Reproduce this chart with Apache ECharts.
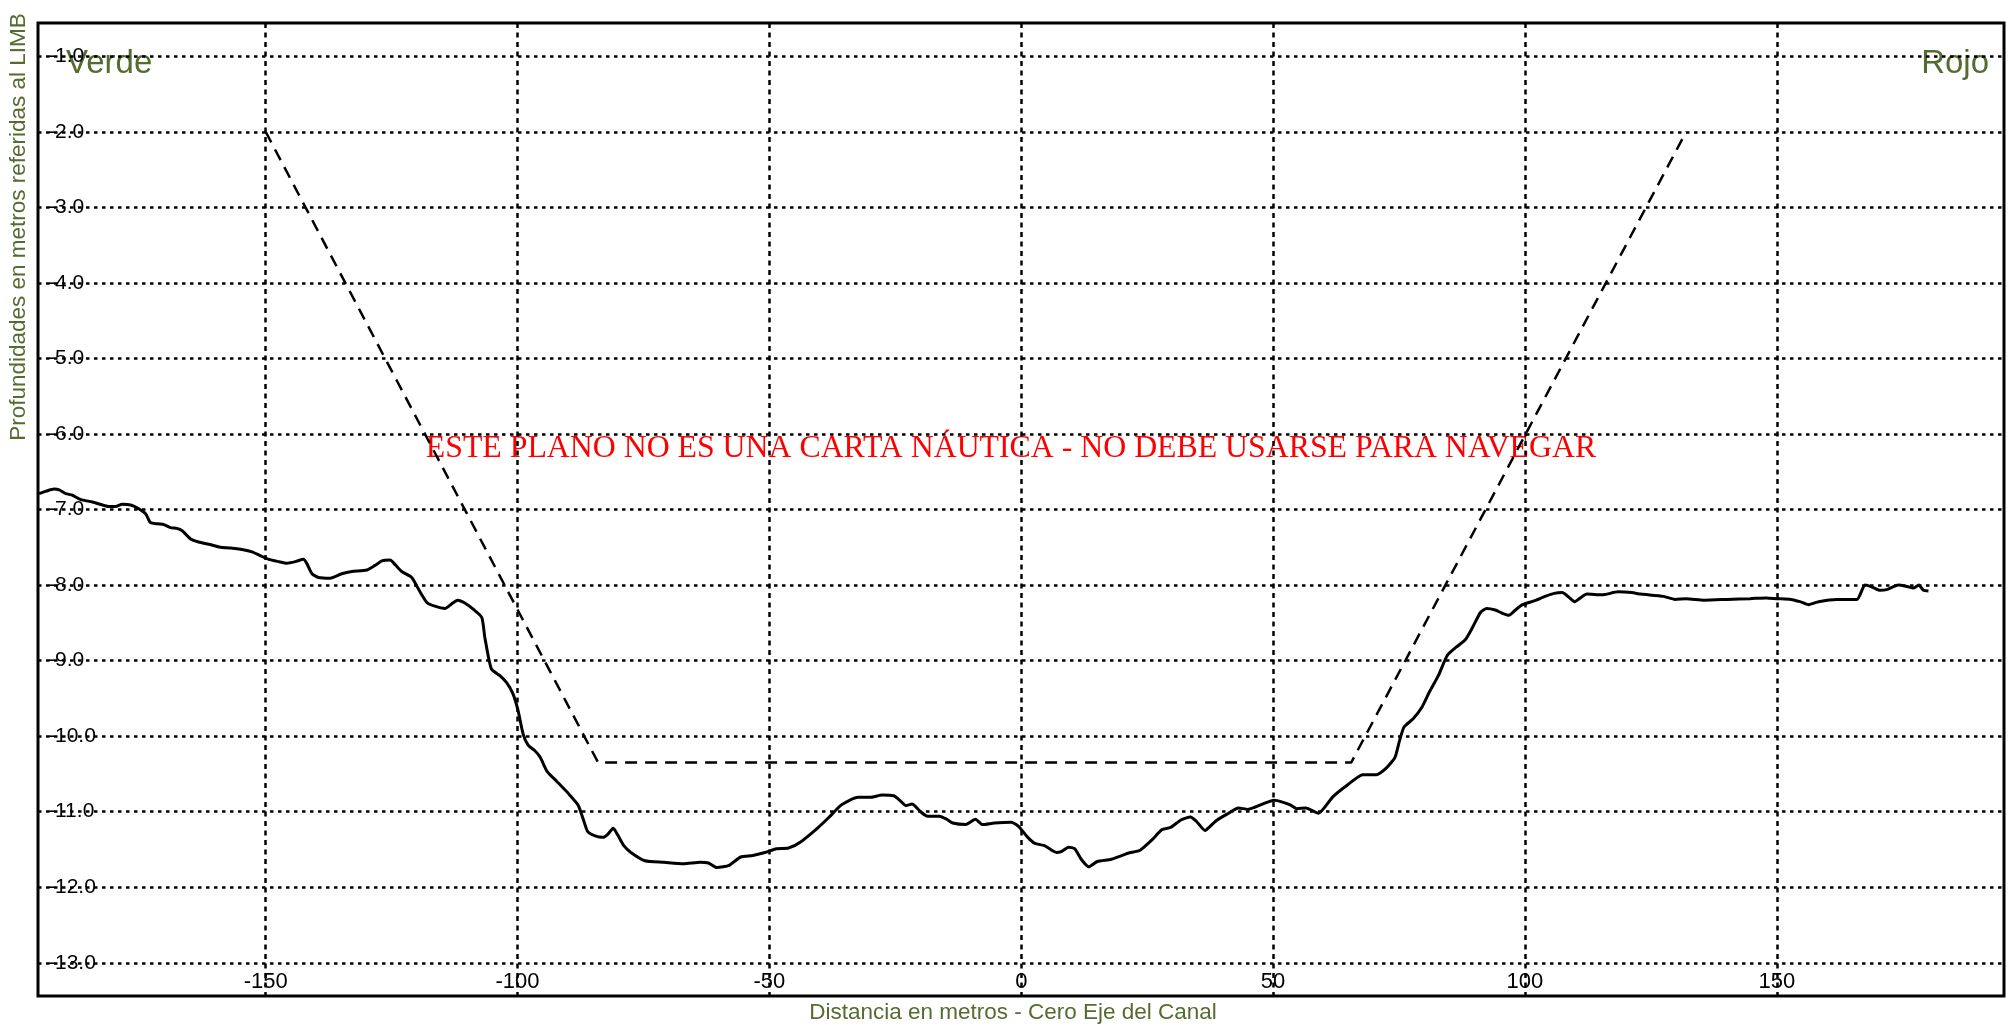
<!DOCTYPE html>
<html><head><meta charset="utf-8">
<script src="https://cdn.jsdelivr.net/npm/echarts@6/dist/echarts.min.js"></script>
<style>html,body{margin:0;padding:0;background:#fff}#c{width:2010px;height:1032px}</style>
</head><body><div id="c"></div>
<script>
const xTicks = [-150, -100, -50, 0, 50, 100, 150];
const yTicks = [-1, -2, -3, -4, -5, -6, -7, -8, -9, -10, -11, -12, -13];
const xTitle = 'Distancia en metros - Cero Eje del Canal';
const yTitle = 'Profundidades en metros referidas al LIMB';
const warning = 'ESTE PLANO NO ES UNA CARTA NÁUTICA - NO DEBE USARSE PARA NAVEGAR';
const leftSide = 'Verde';
const rightSide = 'Rojo';

const profileX = [-195,-193.7,-192,-191,-189.7,-188.4,-186.7,-184.4,-181.1,-179.8,-178.5,-176.8,-175.2,-173.8,-172.9,-171.5,-170.2,-168.9,-167.6,-166.6,-164.9,-163.3,-161.3,-159,-157,-154.7,-152.7,-151.1,-149.4,-147.4,-145.8,-144.1,-142.5,-141.8,-140.8,-139.5,-137.2,-134.9,-132.9,-129.9,-128.3,-126.9,-125.3,-124.3,-123,-121,-119.7,-118,-116.4,-114.4,-113.1,-111.9,-110.4,-108.8,-107.1,-106.5,-105.2,-103.5,-102.2,-100.9,-99.9,-98.9,-97.9,-96.6,-95.5,
-94.1,-92.2,-89.9,-88,-87,-86.1,-84.6,-83,-82.1,-81,-80.1,-78.9,-77.5,-74.7,-70.9,-67.1,-63.7,-62.1,-60.4,-58,-55.7,-53.3,-50.9,-48.6,-46.2,-43.8,-40.5,-38.1,-35.7,-32.4,-30,-27.6,-25.3,-24.1,-22.9,-21.7,-20,-18.6,-16.2,-14.8,-13.6,-11,-9.1,-7.7,-5.3,-2,-0.6,1.3,2.7,4.6,7,7.9,9.4,10.6,11.9,13.4,15.1,17.9,21.2,23.6,26,27.9,29.6,31.7,33.6,34.8,36.5,37.4,38.9,41.2,43.1,45,47.9,50.2,51.7,53.4,
54.7,56.5,59,61.9,64.7,67.8,70.5,72.5,74.2,75.1,76,77.8,79.6,81,82.8,84.6,86.4,88.2,89.6,91.2,92.4,94.1,95.4,96.8,98.1,99.5,101.8,104,105.8,107.4,108.7,109.9,110.8,112.3,115.3,118.5,121.2,123,127.5,129.8,132,135.6,140.2,144.7,147.9,150.1,152.8,154.6,156.3,158.3,161.9,165.9,167.5,168.7,170.5,171.8,174.1,175.9,177.1,178.2,179.1,180.1];
const profileY = [-6.79,-6.76,-6.73,-6.74,-6.79,-6.81,-6.87,-6.9,-6.96,-6.96,-6.93,-6.94,-6.99,-7.06,-7.17,-7.19,-7.2,-7.24,-7.25,-7.28,-7.39,-7.43,-7.46,-7.5,-7.51,-7.53,-7.56,-7.61,-7.66,-7.69,-7.71,-7.69,-7.66,-7.72,-7.85,-7.9,-7.91,-7.85,-7.82,-7.8,-7.74,-7.68,-7.67,-7.73,-7.82,-7.9,-8.05,-8.23,-8.28,-8.31,-8.25,-8.2,-8.24,-8.32,-8.43,-8.69,-9.11,-9.2,-9.29,-9.44,-9.66,-9.97,-10.12,-10.19,-10.28,
-10.47,-10.6,-10.76,-10.91,-11.09,-11.26,-11.32,-11.34,-11.3,-11.22,-11.31,-11.45,-11.54,-11.65,-11.67,-11.69,-11.67,-11.68,-11.74,-11.71,-11.6,-11.58,-11.54,-11.49,-11.48,-11.4,-11.22,-11.07,-10.91,-10.81,-10.81,-10.78,-10.79,-10.85,-10.92,-10.9,-11,-11.06,-11.06,-11.1,-11.15,-11.17,-11.1,-11.17,-11.15,-11.14,-11.19,-11.34,-11.42,-11.45,-11.54,-11.53,-11.47,-11.49,-11.63,-11.73,-11.66,-11.63,-11.55,-11.51,-11.37,-11.24,-11.21,-11.11,-11.07,-11.13,-11.25,-11.2,-11.11,-11.02,-10.95,-10.97,-10.9,-10.85,-10.87,-10.91,
-10.96,-10.95,-11.02,-10.8,-10.65,-10.51,-10.51,-10.42,-10.28,-10.06,-9.88,-9.77,-9.61,-9.42,-9.2,-8.93,-8.82,-8.72,-8.56,-8.36,-8.31,-8.33,-8.37,-8.4,-8.33,-8.26,-8.21,-8.15,-8.11,-8.1,-8.16,-8.22,-8.18,-8.12,-8.13,-8.09,-8.1,-8.12,-8.15,-8.19,-8.18,-8.2,-8.19,-8.18,-8.17,-8.18,-8.19,-8.22,-8.26,-8.22,-8.19,-8.19,-8,-8.02,-8.07,-8.06,-8,-8.02,-8.04,-8,-8.07,-8.08];

const channelX = [-150, -84, 65.5, 132];
const channelY = [-2, -10.35, -10.35, -2];

const green = '#556B2F';
const labelFont = '"Liberation Sans Narrow", "Arial Narrow", "Liberation Sans", Arial, sans-serif';
const chart = echarts.init(document.getElementById('c'));
chart.setOption({
  backgroundColor: '#fff',
  animation: false,
  grid: { left: 38, right: 6, top: 23, bottom: 36, show: true, borderColor: '#000', borderWidth: 3, backgroundColor: 'transparent' },
  xAxis: {
    type: 'value', min: -195.2, max: 195.1,
    axisLine: { show: false },
    axisTick: { show: false, customValues: xTicks },
    axisLabel: { customValues: xTicks, inside: true, margin: 3, color: '#000', fontSize: 22, fontFamily: labelFont },
    splitLine: { show: true, lineStyle: { color: '#000', width: 2.5, type: [5, 4.5] } }
  },
  yAxis: {
    type: 'value', min: -13.44, max: -0.56,
    axisLine: { show: false },
    axisTick: { show: false, customValues: yTicks },
    axisLabel: { customValues: yTicks, inside: true, margin: 10, color: '#000', fontSize: 21, fontFamily: labelFont, formatter: v => v.toFixed(1) },
    splitLine: { show: true, lineStyle: { color: '#000', width: 2.5, type: [3.5, 4.5] } }
  },
  graphic: [
    { type: 'text', left: 66, top: 47, style: { text: leftSide, fill: green, font: '33px "Liberation Sans", Arial, sans-serif' } },
    { type: 'text', right: 21, top: 47, style: { text: rightSide, fill: green, font: '33px "Liberation Sans", Arial, sans-serif' } },
    { type: 'text', x: 1011, y: 449, style: { text: warning, fill: '#ff0000', font: '31.8px "Liberation Serif", "Times New Roman", serif', textAlign: 'center', textVerticalAlign: 'middle' } },
    { type: 'text', x: 1013, y: 1013, style: { text: xTitle, fill: green, font: '22.5px "Liberation Sans", Arial, sans-serif', textAlign: 'center', textVerticalAlign: 'middle' } },
    { type: 'text', x: 19, y: 227, rotation: Math.PI / 2, style: { text: yTitle, fill: green, font: '22.5px "Liberation Sans", Arial, sans-serif', textAlign: 'center', textVerticalAlign: 'middle' } }
  ],
  series: [
    { type: 'line', data: channelX.map((x, i) => [x, channelY[i]]), showSymbol: false, lineStyle: { color: '#000', width: 2.5, type: [12, 8] }, z: 3 },
    { type: 'line', data: profileX.map((x, i) => [x, profileY[i]]), showSymbol: false, smooth: 0.2, lineStyle: { color: '#000', width: 3 }, z: 4 }
  ]
});
</script>
</body></html>
